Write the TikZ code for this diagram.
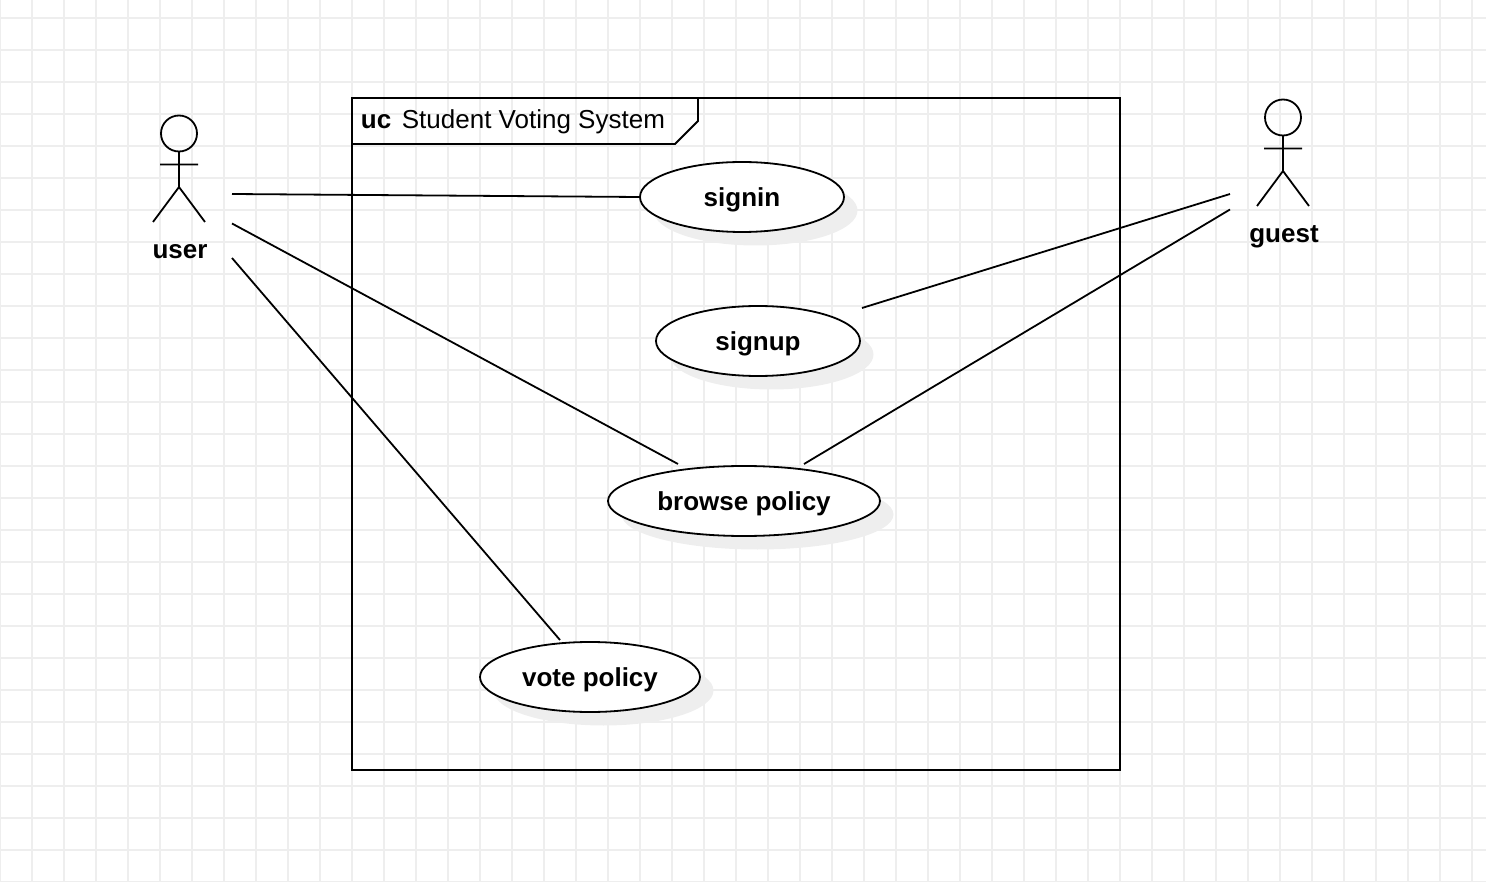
\documentclass[tikz,border=0pt]{standalone}
\usepackage{fontspec}
\setmainfont{Liberation Sans}
\usepackage{tikz}
\usetikzlibrary{shapes.geometric,shadows}
\definecolor{gridgray}{HTML}{EEEEEE}
\definecolor{shadegray}{HTML}{EEEEEE}

\begin{document}
\begin{tikzpicture}
      [x=1pt,y=-1pt,line width=1.8pt,
       case node/.style={ellipse,draw,fill=white,inner sep=0pt,minimum height=70pt,
         text height=19pt,text depth=0pt,
         font=\fontsize{26}{30}\selectfont\bfseries,
         drop shadow={shadow xshift=13.5pt,shadow yshift=-13.5pt,fill=shadegray,opacity=1}},
       name node/.style={inner sep=0pt,font=\fontsize{26}{30}\selectfont\bfseries},
       title node/.style={inner sep=0pt,anchor=base west,font=\fontsize{26}{30}\selectfont}]
        \useasboundingbox (0,0) rectangle (1486,882);

        % grid
        \foreach \x in {0,32,...,1472}
          \draw[gridgray,line width=1.3pt] (\x,0) -- (\x,882);
        \foreach \y in {18,50,...,882}
          \draw[gridgray,line width=1.3pt] (0,\y) -- (1486,\y);

        % frame
        \draw (352,98) rectangle (1120,770);
        \draw (352,144) -- (675,144) -- (698,121) -- (698,98);
        \node[title node,font=\fontsize{26}{30}\selectfont\bfseries] (uc) at (360,129) {uc};
        \node[title node] (title) at (401,129) {Student Voting System};

        % use cases
        \node[case node,minimum width=204pt] (signin) at (742,197) {signin};
        \node[case node,minimum width=204pt] (signup) at (758,341) {signup};
        \node[case node,minimum width=272pt] (browse) at (744,501) {browse policy};
        \node[case node,minimum width=220pt] (vote) at (590,677) {vote policy};

        % actors
        \node[name node] (user) at (180,252) {user};
        \node[name node] (guest) at (1284,237) {guest};
        \foreach \a/\b in {0/0,1104/-16}
          \draw[shift={(\a,\b)}] (179,133.5) circle (18)
            (179,151.5) -- (179,187) (160,164.5) -- (198,164.5)
            (153,222) -- (179,187) -- (205,222);

        % free ends
        \coordinate (u1) at (232,194);
        \coordinate (u2) at (232,223.5);
        \coordinate (u3) at (232,258);
        \coordinate (g1) at (1230,194);
        \coordinate (g2) at (1230,209.5);
        \coordinate (b1) at (678,464);
        \coordinate (b2) at (804,464);
        \coordinate (s1) at (862,308);
        \coordinate (v1) at (560,640);

        \draw (u1) -- (signin.west);
        \draw (u2) -- (b1);
        \draw (u3) -- (v1);
        \draw (g1) -- (s1);
        \draw (g2) -- (b2);

      \end{tikzpicture}
\end{document}
